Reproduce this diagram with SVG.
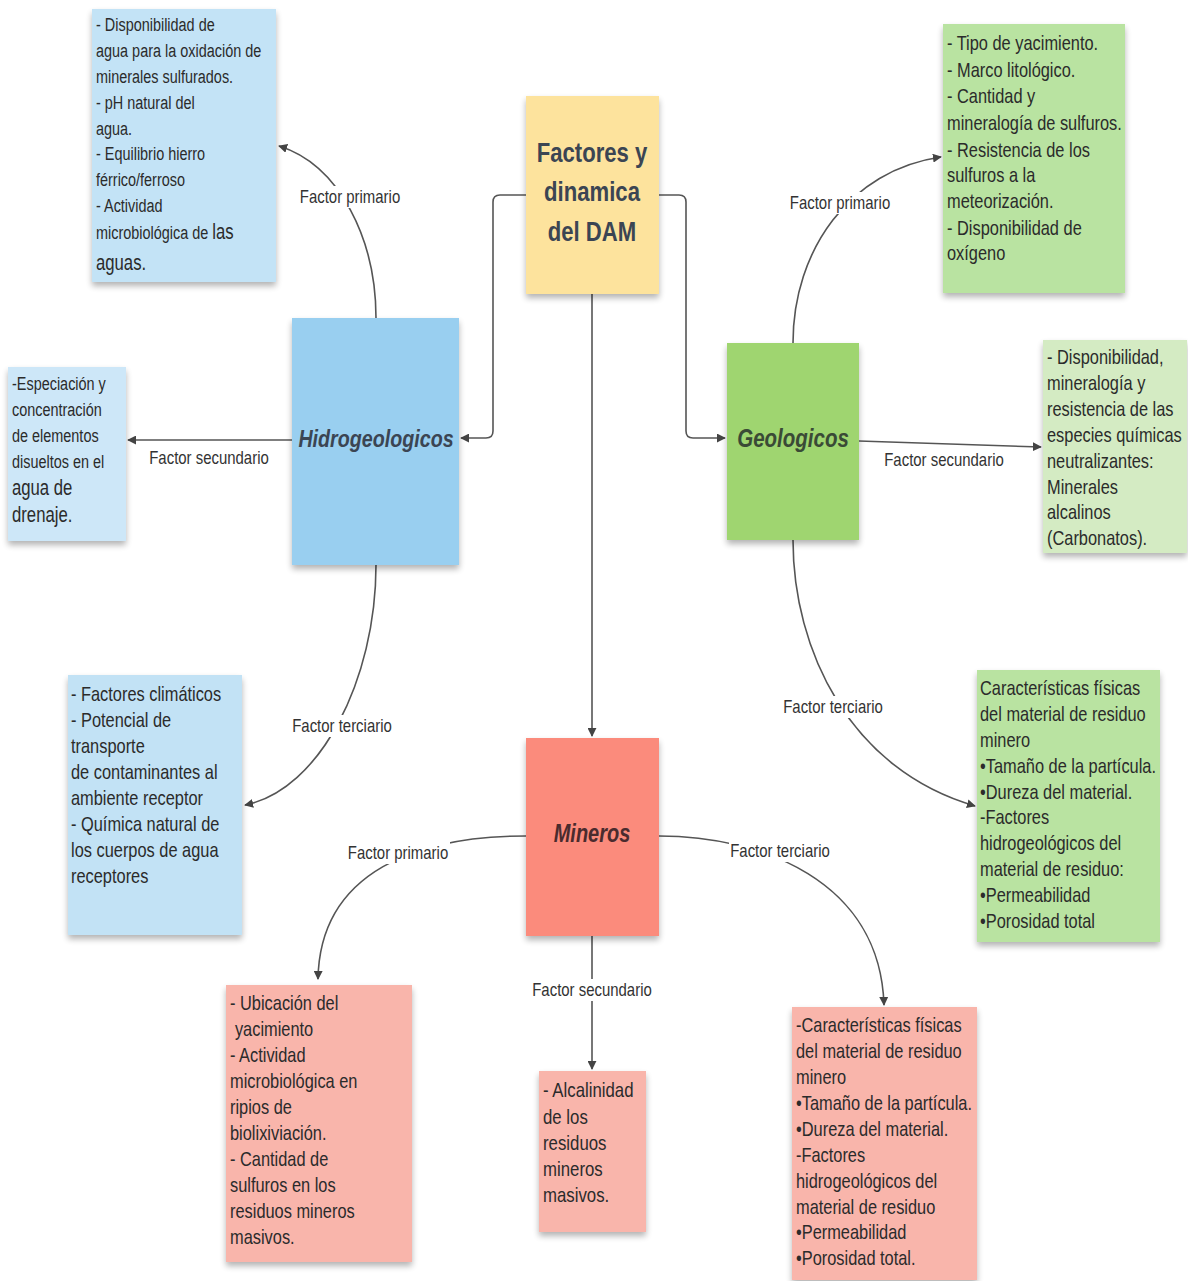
<svg xmlns="http://www.w3.org/2000/svg" width="1188" height="1281" viewBox="0 0 1188 1281">
<style>
text{font-family:"Liberation Sans",Arial,sans-serif;}
.t{font-size:20px;fill:#2b2b2b;}
.lbl{font-size:18px;fill:#333;text-anchor:middle;}
.lb{fill:#fff;}
.c{fill:none;stroke:#555;stroke-width:1.6;marker-end:url(#ah);}
.main{font-size:27px;font-weight:bold;fill:#3b4553;text-anchor:middle;}
.mi{font-style:italic;}
</style>
<defs>
<marker id="ah" viewBox="0 0 10 10" refX="9" refY="5" markerWidth="9" markerHeight="9" markerUnits="userSpaceOnUse" orient="auto">
<path d="M0,0 L10,5 L0,10 Z" fill="#444"/>
</marker>
<filter id="sh" x="-10%" y="-10%" width="120%" height="125%">
<feGaussianBlur in="SourceAlpha" stdDeviation="3"/>
<feOffset dx="0" dy="4"/>
<feComponentTransfer><feFuncA type="linear" slope="0.3"/></feComponentTransfer>
<feMerge><feMergeNode/><feMergeNode in="SourceGraphic"/></feMerge>
</filter>
</defs>
<rect width="1188" height="1281" fill="#fff"/>

<g id="connectors">
<path class="c" d="M526,195 H500 Q493,195 493,202 V431 Q493,438 486,438 H461"/>
<path class="c" d="M659,195 H679 Q686,195 686,202 V431 Q686,438 693,438 H725"/>
<path class="c" d="M592,294 V736"/>
<path class="c" d="M376,318 C376,240 340,165 279,146"/>
<path class="c" d="M292,440 H128"/>
<path class="c" d="M376,565 C376,680 320,790 245,805"/>
<path class="c" d="M793,343 C793,250 850,170 941,157"/>
<path class="c" d="M859,441 L1041,447"/>
<path class="c" d="M793,540 C793,650 850,770 975,806"/>
<path class="c" d="M526,836 C420,836 320,870 318,979"/>
<path class="c" d="M592,936 V1069"/>
<path class="c" d="M659,836 C760,836 880,880 884,1005"/>
<rect class="lb" x="298" y="186" width="104" height="22"/>
<text class="lbl" transform="translate(350,203) scale(0.83,1)">Factor primario</text>
<rect class="lb" x="147" y="448" width="124" height="21"/>
<text class="lbl" transform="translate(209,464) scale(0.83,1)">Factor secundario</text>
<rect class="lb" x="292" y="715" width="102" height="22"/>
<text class="lbl" transform="translate(342,732) scale(0.83,1)">Factor terciario</text>
<rect class="lb" x="788" y="192" width="104" height="22"/>
<text class="lbl" transform="translate(840,209) scale(0.83,1)">Factor primario</text>
<rect class="lb" x="882" y="450" width="124" height="21"/>
<text class="lbl" transform="translate(944,466) scale(0.83,1)">Factor secundario</text>
<rect class="lb" x="782" y="696" width="102" height="22"/>
<text class="lbl" transform="translate(833,713) scale(0.83,1)">Factor terciario</text>
<rect class="lb" x="346" y="842" width="104" height="22"/>
<text class="lbl" transform="translate(398,859) scale(0.83,1)">Factor primario</text>
<rect class="lb" x="530" y="979" width="124" height="22"/>
<text class="lbl" transform="translate(592,996) scale(0.83,1)">Factor secundario</text>
<rect class="lb" x="729" y="840" width="102" height="22"/>
<text class="lbl" transform="translate(780,857) scale(0.83,1)">Factor terciario</text>
</g>

<g id="central">
<rect x="526" y="96" width="133" height="198" fill="#fde39d" filter="url(#sh)"/>
<text class="main" transform="translate(592,162) scale(0.82,1)">Factores y</text>
<text class="main" transform="translate(592,201) scale(0.82,1)">dinamica</text>
<text class="main" transform="translate(592,241) scale(0.82,1)">del DAM</text>
</g>

<g id="hidrogeologicos">
<rect x="292" y="318" width="167" height="247" fill="#99cff0" filter="url(#sh)"/>
<text class="main mi" transform="translate(376,447) scale(0.82,1)" style="font-size:24px">Hidrogeologicos</text>
</g>

<g id="geologicos">
<rect x="727" y="343" width="132" height="197" fill="#9fd56f" filter="url(#sh)"/>
<text class="main mi" transform="translate(793,447) scale(0.82,1)" style="font-size:25px;fill:#3a4a36">Geologicos</text>
</g>

<g id="mineros">
<rect x="526" y="738" width="133" height="198" fill="#fb8b7c" filter="url(#sh)"/>
<text class="main mi" transform="translate(592,842) scale(0.8,1)" style="font-size:25px;fill:#4a2b2e">Mineros</text>
</g>

<g id="hidro-primario">
<rect x="92" y="9" width="184" height="273" fill="#c3e3f6" filter="url(#sh)"/>
<g class="t" style="font-size:19px" transform="translate(96,0) scale(0.76,1)">
<text x="0" y="31">- Disponibilidad de</text>
<text x="0" y="57">agua para la oxidación de</text>
<text x="0" y="83">minerales sulfurados.</text>
<text x="0" y="109">- pH natural del</text>
<text x="0" y="135">agua.</text>
<text x="0" y="160">- Equilibrio hierro</text>
<text x="0" y="186">férrico/ferroso</text>
<text x="0" y="212">- Actividad</text>
<text x="0" y="239">microbiológica de <tspan style="font-size:22px">las</tspan></text>
<text x="0" y="270" style="font-size:22px">aguas.</text>
</g>
</g>

<g id="hidro-secundario">
<rect x="8" y="367" width="118" height="174" fill="#cde7f8" filter="url(#sh)"/>
<g class="t" style="font-size:19px" transform="translate(12,0) scale(0.76,1)">
<text x="0" y="390">-Especiación y</text>
<text x="0" y="416">concentración</text>
<text x="0" y="442">de elementos</text>
<text x="0" y="468">disueltos en el</text>
<text x="0" y="495" style="font-size:22px">agua de</text>
<text x="0" y="522" style="font-size:22px">drenaje.</text>
</g>
</g>

<g id="hidro-terciario">
<rect x="68" y="675" width="174" height="260" fill="#c2e2f5" filter="url(#sh)"/>
<g class="t" transform="translate(71,0) scale(0.82,1)">
<text x="0" y="701">- Factores climáticos</text>
<text x="0" y="727">- Potencial de</text>
<text x="0" y="753">transporte</text>
<text x="0" y="779">de contaminantes al</text>
<text x="0" y="805">ambiente receptor</text>
<text x="0" y="831">- Química natural de</text>
<text x="0" y="857">los cuerpos de agua</text>
<text x="0" y="883">receptores</text>
</g>
</g>

<g id="geo-primario">
<rect x="943" y="24" width="182" height="269" fill="#b9e3a1" filter="url(#sh)"/>
<g class="t" transform="translate(947,0) scale(0.82,1)">
<text x="0" y="50">- Tipo de yacimiento.</text>
<text x="0" y="77">- Marco litológico.</text>
<text x="0" y="103">- Cantidad y</text>
<text x="0" y="130">mineralogía de sulfuros.</text>
<text x="0" y="157">- Resistencia de los</text>
<text x="0" y="182">sulfuros a la</text>
<text x="0" y="208">meteorización.</text>
<text x="0" y="235">- Disponibilidad de</text>
<text x="0" y="260">oxígeno</text>
</g>
</g>

<g id="geo-secundario">
<rect x="1043" y="340" width="144" height="213" fill="#d4ebc3" filter="url(#sh)"/>
<g class="t" transform="translate(1047,0) scale(0.82,1)">
<text x="0" y="364">- Disponibilidad,</text>
<text x="0" y="390">mineralogía y</text>
<text x="0" y="416">resistencia de las</text>
<text x="0" y="442">especies químicas</text>
<text x="0" y="468">neutralizantes:</text>
<text x="0" y="494">Minerales</text>
<text x="0" y="519">alcalinos</text>
<text x="0" y="545">(Carbonatos).</text>
</g>
</g>

<g id="geo-terciario">
<rect x="977" y="670" width="183" height="272" fill="#b9e3a1" filter="url(#sh)"/>
<g class="t" transform="translate(980,0) scale(0.82,1)">
<text x="0" y="695">Características físicas</text>
<text x="0" y="721">del material de residuo</text>
<text x="0" y="747">minero</text>
<text x="0" y="773">•Tamaño de la partícula.</text>
<text x="0" y="799">•Dureza del material.</text>
<text x="0" y="824">-Factores</text>
<text x="0" y="850">hidrogeológicos del</text>
<text x="0" y="876">material de residuo:</text>
<text x="0" y="902">•Permeabilidad</text>
<text x="0" y="928">•Porosidad total</text>
</g>
</g>

<g id="min-primario">
<rect x="226" y="985" width="186" height="277" fill="#f9b5ab" filter="url(#sh)"/>
<g class="t" transform="translate(230,0) scale(0.82,1)">
<text x="0" y="1010">- Ubicación del</text>
<text x="6" y="1036">yacimiento</text>
<text x="0" y="1062">- Actividad</text>
<text x="0" y="1088">microbiológica en</text>
<text x="0" y="1114">ripios de</text>
<text x="0" y="1140">biolixiviación.</text>
<text x="0" y="1166">- Cantidad de</text>
<text x="0" y="1192">sulfuros en los</text>
<text x="0" y="1218">residuos mineros</text>
<text x="0" y="1244">masivos.</text>
</g>
</g>

<g id="min-secundario">
<rect x="539" y="1071" width="107" height="161" fill="#f9b5ab" filter="url(#sh)"/>
<g class="t" transform="translate(543,0) scale(0.84,1)">
<text x="0" y="1097">- Alcalinidad</text>
<text x="0" y="1124">de los</text>
<text x="0" y="1150">residuos</text>
<text x="0" y="1176">mineros</text>
<text x="0" y="1202">masivos.</text>
</g>
</g>

<g id="min-terciario">
<rect x="792" y="1007" width="185" height="273" fill="#f9b5ab" filter="url(#sh)"/>
<g class="t" transform="translate(796,0) scale(0.82,1)">
<text x="0" y="1032">-Características físicas</text>
<text x="0" y="1058">del material de residuo</text>
<text x="0" y="1084">minero</text>
<text x="0" y="1110">•Tamaño de la partícula.</text>
<text x="0" y="1136">•Dureza del material.</text>
<text x="0" y="1162">-Factores</text>
<text x="0" y="1188">hidrogeológicos del</text>
<text x="0" y="1214">material de residuo</text>
<text x="0" y="1239">•Permeabilidad</text>
<text x="0" y="1265">•Porosidad total.</text>
</g>
</g>
</svg>
